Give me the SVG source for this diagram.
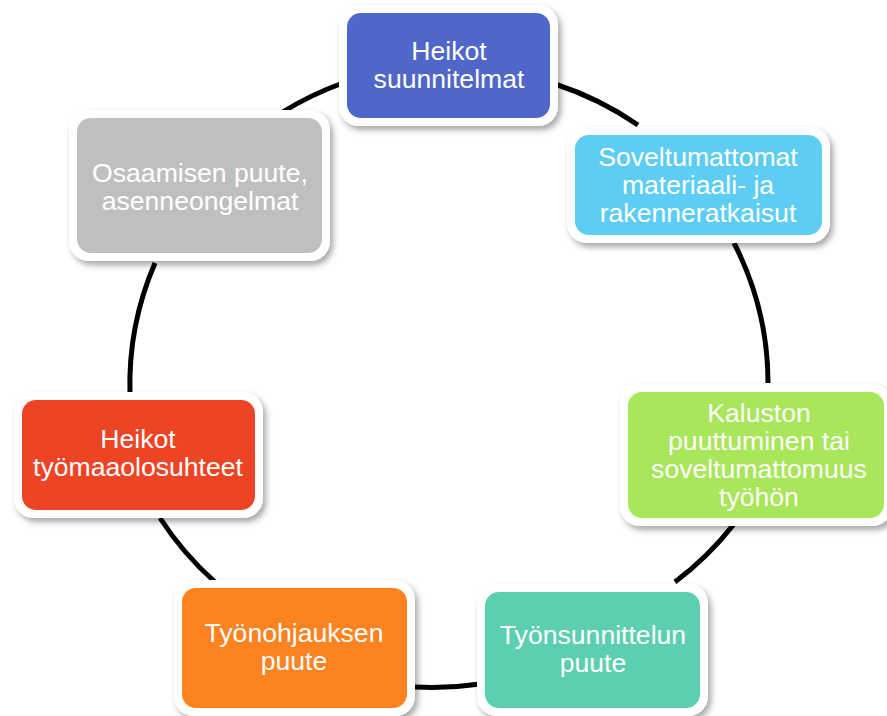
<svg xmlns="http://www.w3.org/2000/svg" width="887" height="716" viewBox="0 0 887 716">
  <defs>
    <filter id="sh" x="-10%" y="-10%" width="125%" height="130%">
      <feDropShadow dx="3" dy="4" stdDeviation="3" flood-color="#000" flood-opacity="0.35"/>
    </filter>
  </defs>
  <style>
    .frame { fill: #ffffff; filter: url(#sh); }
    .lbl { font-family: "Liberation Sans", Arial, Helvetica, sans-serif; font-size: 26.6px; fill: #ffffff; text-anchor: middle; }
    .arc { fill: none; stroke: #000000; stroke-width: 5; }
  </style>
  <rect width="887" height="716" fill="#ffffff"/>

  <g id="connectors">
    <path class="arc" d="M555,84 A319,312 0 0 1 638,125"/>
    <path class="arc" d="M734,243 A319,312 0 0 1 768,383"/>
    <path class="arc" d="M734,524 A319,312 0 0 1 675,582"/>
    <path class="arc" d="M480,684 A319,312 0 0 1 415,687"/>
    <path class="arc" d="M215,582 A319,312 0 0 1 160,518"/>
    <path class="arc" d="M130,394 A319,312 0 0 1 155,263"/>
    <path class="arc" d="M281,113 A319,312 0 0 1 343,83"/>
  </g>

  <g id="n1">
    <rect class="frame" x="339" y="5" width="219" height="121" rx="20"/>
    <rect x="347" y="13" width="203" height="105" rx="14" fill="#4F67C9"/>
    <text class="lbl" x="449" y="60">Heikot</text>
    <text class="lbl" x="449" y="88">suunnitelmat</text>
  </g>

  <g id="n2">
    <rect class="frame" x="567" y="127" width="263" height="116" rx="20"/>
    <rect x="575" y="135" width="247" height="100" rx="14" fill="#5DCDF3"/>
    <text class="lbl" x="698" y="166">Soveltumattomat</text>
    <text class="lbl" x="698" y="194">materiaali- ja</text>
    <text class="lbl" x="698" y="222">rakenneratkaisut</text>
  </g>

  <g id="n3">
    <rect class="frame" x="620" y="384" width="272" height="142" rx="20"/>
    <rect x="628" y="392" width="256" height="126" rx="14" fill="#A8E65A"/>
    <text class="lbl" x="759" y="422">Kaluston</text>
    <text class="lbl" x="759" y="450">puuttuminen tai</text>
    <text class="lbl" x="759" y="478">soveltumattomuus</text>
    <text class="lbl" x="759" y="506">työhön</text>
  </g>

  <g id="n4">
    <rect class="frame" x="477" y="584" width="231" height="132" rx="20"/>
    <rect x="485" y="592" width="215" height="116" rx="14" fill="#5DCFB1"/>
    <text class="lbl" x="593" y="644">Työnsunnittelun</text>
    <text class="lbl" x="593" y="672">puute</text>
  </g>

  <g id="n5">
    <rect class="frame" x="174" y="580" width="241" height="136" rx="20"/>
    <rect x="182" y="588" width="225" height="120" rx="14" fill="#FD8220"/>
    <text class="lbl" x="294" y="642">Työnohjauksen</text>
    <text class="lbl" x="294" y="670">puute</text>
  </g>

  <g id="n6">
    <rect class="frame" x="14" y="392" width="249" height="126" rx="20"/>
    <rect x="22" y="400" width="233" height="110" rx="14" fill="#EE4426"/>
    <text class="lbl" x="138" y="448">Heikot</text>
    <text class="lbl" x="138" y="476">työmaaolosuhteet</text>
  </g>

  <g id="n7">
    <rect class="frame" x="69" y="110" width="261" height="151" rx="20"/>
    <rect x="77" y="118" width="245" height="135" rx="14" fill="#BFBFBF"/>
    <text class="lbl" x="200" y="182">Osaamisen puute,</text>
    <text class="lbl" x="200" y="210">asenneongelmat</text>
  </g>
</svg>
